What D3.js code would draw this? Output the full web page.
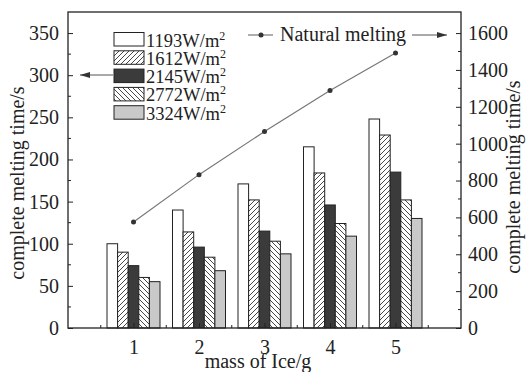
<!DOCTYPE html>
<html>
<head>
<meta charset="utf-8">
<script src="https://cdn.jsdelivr.net/npm/d3@7"></script>
<style>
  body { margin: 0; background: #fff; }
  svg { font-family: "Liberation Serif", "DejaVu Serif", serif; }
</style>
</head>
<body>
<svg id="chart" width="528" height="372"></svg>
<script>
// mass of ice (g)
var masses = [1, 2, 3, 4, 5]
var fluxes = ["1193", "1612", "2145", "2772", "3324"]

// melting time (s) per heat flux, left axis
var t1193 = [100, 140, 171, 215, 248]
var t1612 = [90, 114, 152, 184, 229]
var t2145 = [74, 96, 115, 146, 185]
var t2772 = [60, 84, 103, 124, 152]
var t3324 = [55, 68, 88, 109, 130]

// natural melting (s), right axis
var natural = [575, 832, 1066, 1288, 1492]

var leftTicks = [0, 50, 100, 150, 200, 250, 300, 350]
var rightTicks = [0, 200, 400, 600, 800, 1000, 1200, 1400, 1600]

var series = [t1193, t1612, t2145, t2772, t3324]
var fills = ["#fff", "url(#hatchUp)", "#3b3b3b", "url(#hatchDown)", "#c9c9c9"]

// plot box (window.top is read-only, so no bare "top")
var plotL = 68, plotR = 461, plotT = 12, plotB = 328

var svg = d3.select("#chart")

var defs = svg.append("defs")
function hatch(id, d) {
  var p = defs.append("pattern")
    .attr("id", id)
    .attr("patternUnits", "userSpaceOnUse")
    .attr("width", 5).attr("height", 5)
  p.append("rect").attr("width", 5).attr("height", 5).attr("fill", "#fff")
  p.append("path").attr("d", d).attr("stroke", "#333").attr("stroke-width", 0.9)
}
hatch("hatchUp", "M-1,1 l2,-2 M0,5 l5,-5 M4,6 l2,-2")
hatch("hatchDown", "M-1,4 l2,2 M0,0 l5,5 M4,-1 l2,2")

var x = d3.scaleLinear().domain([0, 6]).range([plotL, plotR])
var y = d3.scaleLinear().domain([0, 375]).range([plotB, plotT])
var y2 = d3.scaleLinear().domain([0, 375 * 1600 / 350]).range([plotB, plotT])
var inner = d3.scaleBand().domain(fluxes).range([-26.5, 26.5])

// bars
fluxes.forEach((f, i) => {
  svg.append("g").selectAll("rect")
    .data(masses)
    .enter().append("rect")
    .attr("x", (m) => x(m) + inner(f))
    .attr("y", (m, j) => y(series[i][j]))
    .attr("width", inner.bandwidth())
    .attr("height", (m, j) => plotB - y(series[i][j]))
    .attr("fill", fills[i])
    .attr("stroke", "#222")
    .attr("stroke-width", 1)
})

// natural melting line
var line = d3.line()
  .x((d, i) => x(masses[i]))
  .y((d) => y2(d))

svg.append("path")
  .datum(natural)
  .attr("d", line)
  .attr("fill", "none")
  .attr("stroke", "#777")
  .attr("stroke-width", 1.2)

svg.append("g").selectAll("circle")
  .data(natural)
  .enter().append("circle")
  .attr("cx", (d, i) => x(masses[i]))
  .attr("cy", (d) => y2(d))
  .attr("r", 2.5)
  .attr("fill", "#333")

// axes
var xAxis = svg.append("g")
  .attr("transform", `translate(0,${plotB})`)
  .call(d3.axisBottom(x).tickValues(masses).tickSize(-5).tickPadding(12).tickFormat(d3.format("d")))
var leftAxis = svg.append("g")
  .attr("transform", `translate(${plotL},0)`)
  .call(d3.axisLeft(y).tickValues(leftTicks).tickSize(-5).tickPadding(9).tickFormat(d3.format("d")))
var rightAxis = svg.append("g")
  .attr("transform", `translate(${plotR},0)`)
  .call(d3.axisRight(y2).tickValues(rightTicks).tickSize(-5).tickPadding(7).tickFormat(d3.format("d")))

;[xAxis, leftAxis, rightAxis].forEach((a) => {
  a.select(".domain").remove()
  a.selectAll("line").attr("stroke", "#222")
  a.selectAll("text").attr("font-size", 20).attr("fill", "#222").style("font-family", "Liberation Serif")
})

// minor ticks
svg.append("g").selectAll("line")
  .data(d3.range(0.5, 6, 1))
  .enter().append("line")
  .attr("x1", (d) => x(d)).attr("x2", (d) => x(d))
  .attr("y1", plotB).attr("y2", plotB - 3)
  .attr("stroke", "#222")
svg.append("g").selectAll("line")
  .data(d3.range(25, 375, 50))
  .enter().append("line")
  .attr("x1", plotL).attr("x2", plotL + 3)
  .attr("y1", (d) => y(d)).attr("y2", (d) => y(d))
  .attr("stroke", "#222")
svg.append("g").selectAll("line")
  .data(d3.range(100, 1700, 200))
  .enter().append("line")
  .attr("x1", plotR).attr("x2", plotR - 3)
  .attr("y1", (d) => y2(d)).attr("y2", (d) => y2(d))
  .attr("stroke", "#222")

// frame
svg.append("rect")
  .attr("x", plotL).attr("y", plotT)
  .attr("width", plotR - plotL).attr("height", plotB - plotT)
  .attr("fill", "none").attr("stroke", "#222").attr("stroke-width", 1.3)

// axis titles
svg.append("text")
  .attr("transform", "translate(24,183) rotate(-90)")
  .attr("text-anchor", "middle")
  .attr("font-size", 20).attr("fill", "#222")
  .text("complete melting time/s")
svg.append("text")
  .attr("transform", "translate(520,177) rotate(-90)")
  .attr("text-anchor", "middle")
  .attr("font-size", 20).attr("fill", "#222")
  .text("complete melting time/s")
svg.append("text")
  .attr("x", 258).attr("y", 368)
  .attr("text-anchor", "middle")
  .attr("font-size", 20).attr("fill", "#222")
  .text("mass of Ice/g")

// legend
var legend = svg.append("g")
fluxes.forEach((f, i) => {
  var ly = 32.5 + i * 18.3
  legend.append("rect")
    .attr("x", 114).attr("y", ly)
    .attr("width", 30).attr("height", 13.5)
    .attr("fill", fills[i]).attr("stroke", "#222")
  var t = legend.append("text")
    .attr("x", 146).attr("y", ly + 14)
    .attr("font-size", 18.5).attr("fill", "#222")
    .text(f + "W/m")
  t.append("tspan").attr("dy", -7).attr("font-size", 12).text("2")
})

legend.append("line")
  .attr("x1", 248).attr("x2", 273).attr("y1", 35).attr("y2", 35)
  .attr("stroke", "#777").attr("stroke-width", 1.2)
legend.append("circle")
  .attr("cx", 261).attr("cy", 35).attr("r", 2.5).attr("fill", "#333")
legend.append("text")
  .attr("x", 280).attr("y", 41)
  .attr("font-size", 20).attr("fill", "#222")
  .text("Natural melting")

// arrows pointing to the axis each series uses
defs.append("marker")
  .attr("id", "head")
  .attr("viewBox", "0 0 10 6")
  .attr("refX", 10).attr("refY", 3)
  .attr("markerWidth", 10).attr("markerHeight", 6)
  .attr("markerUnits", "userSpaceOnUse")
  .attr("orient", "auto")
  .append("path").attr("d", "M0,0 L10,3 L0,6 Z").attr("fill", "#333")

svg.append("line")
  .attr("x1", 412).attr("x2", 447).attr("y1", 35).attr("y2", 35)
  .attr("stroke", "#555").attr("stroke-width", 1.2)
  .attr("marker-end", "url(#head)")
svg.append("line")
  .attr("x1", 113).attr("x2", 80).attr("y1", 75).attr("y2", 75)
  .attr("stroke", "#555").attr("stroke-width", 1.2)
  .attr("marker-end", "url(#head)")
</script>
</body>
</html>
